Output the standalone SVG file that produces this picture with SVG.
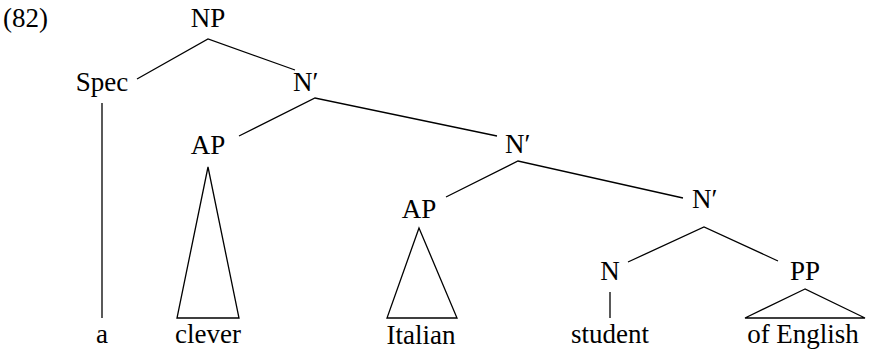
<svg xmlns="http://www.w3.org/2000/svg" width="869" height="350" viewBox="0 0 869 350">
<text x="3" y="27" style="font-family:'Liberation Serif',serif" font-size="27">(82)</text>
<g id="NP"><text x="208" y="27" style="font-family:'Liberation Serif',serif" font-size="27" text-anchor="middle">NP</text></g>
<g id="Spec"><text x="102" y="91" style="font-family:'Liberation Serif',serif" font-size="27" text-anchor="middle">Spec</text></g>
<g id="N1"><text x="293" y="91" style="font-family:'Liberation Serif',serif" font-size="27">N′</text></g>
<g id="AP1"><text x="208" y="154" style="font-family:'Liberation Serif',serif" font-size="27" text-anchor="middle">AP</text></g>
<g id="N2"><text x="505" y="153" style="font-family:'Liberation Serif',serif" font-size="27">N′</text></g>
<g id="AP2"><text x="419" y="218" style="font-family:'Liberation Serif',serif" font-size="27" text-anchor="middle">AP</text></g>
<g id="N3"><text x="692" y="208" style="font-family:'Liberation Serif',serif" font-size="27">N′</text></g>
<g id="N"><text x="610" y="280" style="font-family:'Liberation Serif',serif" font-size="27" text-anchor="middle">N</text></g>
<g id="PP"><text x="805" y="280" style="font-family:'Liberation Serif',serif" font-size="27" text-anchor="middle">PP</text></g>
<g id="a"><text x="102" y="343" style="font-family:'Liberation Serif',serif" font-size="27" text-anchor="middle">a</text></g>
<g id="clever"><text x="208" y="343" style="font-family:'Liberation Serif',serif" font-size="27" text-anchor="middle">clever</text></g>
<g id="Italian"><text x="421" y="344" style="font-family:'Liberation Serif',serif" font-size="27" text-anchor="middle">Italian</text></g>
<g id="student"><text x="610" y="343" style="font-family:'Liberation Serif',serif" font-size="27" text-anchor="middle">student</text></g>
<g id="ofEnglish"><text x="803" y="343" style="font-family:'Liberation Serif',serif" font-size="27" text-anchor="middle">of English</text></g>
<g id="connectors" stroke="#000" stroke-width="1.3" fill="none">
<polyline points="137,79 208,39 295,70"/>
<line x1="102" y1="103" x2="102" y2="318"/>
<polyline points="239,136 315,98 497,136"/>
<polygon points="208,167 177,318 239,318"/>
<polyline points="446,197 518,161 683,198"/>
<polygon points="419,228 387,318 457,318"/>
<polyline points="628,262 704,227 778,261"/>
<line x1="610" y1="292" x2="610" y2="318"/>
<polygon points="805,289 745,318 865,318"/>
</g>
</svg>
